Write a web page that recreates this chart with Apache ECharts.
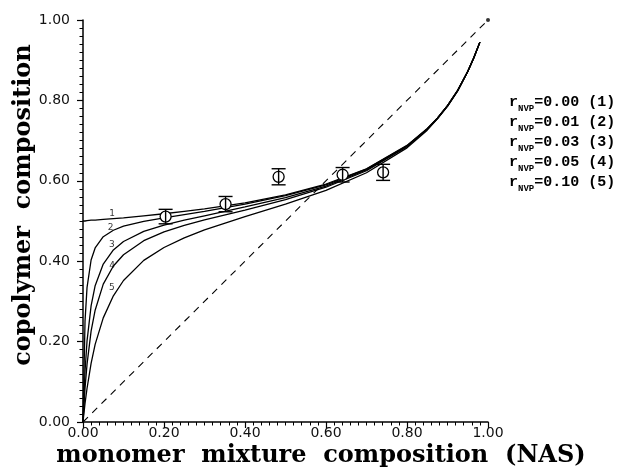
<!DOCTYPE html>
<html>
<head>
<meta charset="utf-8">
<title>copolymer composition</title>
<script src="https://cdn.jsdelivr.net/npm/echarts@6/dist/echarts.min.js"></script>
<style>
    html, body {margin: 0; padding: 0; background: #fff;}
    #chart {width: 619px; height: 469px;}
</style>
</head>
<body>
<div id="chart"></div>
<script>
// monomer mixture composition (NAS), shared by all curves
var feedNAS = [0, 0.005, 0.01, 0.02, 0.03, 0.05, 0.075, 0.1, 0.15, 0.2, 0.25, 0.3, 0.4, 0.5, 0.6, 0.7, 0.8, 0.85, 0.875, 0.9, 0.925, 0.95, 0.965, 0.98];

// copolymer composition, one array per rNVP
var curve1 = [0.500, 0.500, 0.501, 0.502, 0.502, 0.504, 0.506, 0.508, 0.513, 0.518, 0.524, 0.530, 0.545, 0.565, 0.592, 0.630, 0.688, 0.730, 0.756, 0.787, 0.825, 0.872, 0.906, 0.945];
var curve2 = [0, 0.251, 0.335, 0.403, 0.433, 0.461, 0.477, 0.487, 0.499, 0.508, 0.516, 0.524, 0.542, 0.563, 0.590, 0.629, 0.687, 0.729, 0.756, 0.787, 0.825, 0.872, 0.906, 0.945];
var curve3 = [0, 0.126, 0.202, 0.289, 0.339, 0.393, 0.428, 0.449, 0.474, 0.490, 0.502, 0.513, 0.535, 0.558, 0.587, 0.627, 0.686, 0.729, 0.755, 0.787, 0.824, 0.872, 0.906, 0.945];
var curve4 = [0, 0.084, 0.144, 0.226, 0.278, 0.343, 0.388, 0.416, 0.451, 0.473, 0.489, 0.503, 0.527, 0.553, 0.584, 0.625, 0.685, 0.728, 0.755, 0.786, 0.824, 0.872, 0.906, 0.945];
var curve5 = [0, 0.046, 0.084, 0.146, 0.193, 0.259, 0.314, 0.352, 0.402, 0.434, 0.458, 0.478, 0.511, 0.542, 0.576, 0.620, 0.682, 0.726, 0.754, 0.785, 0.823, 0.872, 0.906, 0.945];

// measured points with error bars
var expX = [0.204, 0.352, 0.483, 0.641, 0.741];
var expY = [0.511, 0.542, 0.610, 0.615, 0.621];
var expErr = [0.018, 0.019, 0.020, 0.018, 0.020];

// legend entries
var rValues = ['0.00', '0.01', '0.03', '0.05', '0.10'];

// curve number labels (position of the small digits on the plot)
var tagNames = ['1', '2', '3', '4', '5'];
var tagX = [0.072, 0.068, 0.071, 0.072, 0.071];
var tagY = [0.519, 0.484, 0.440, 0.390, 0.335];

var axisFont = 'DejaVu Sans';
var titleFont = '"DejaVu Serif"';

function pairs(xs, ys) {
    var out = [];
    for (var i = 0; i < xs.length; i++) {
        out.push([xs[i], ys[i]]);
    }
    return out;
}

function curveSeries(name, values) {
    return {
        name: name,
        type: 'line',
        data: pairs(feedNAS, values),
        showSymbol: false,
        smooth: false,
        lineStyle: {color: '#000', width: 1.3},
        animation: false,
        z: 3
    };
}

function renderError(params, api) {
    var x = api.value(0), y = api.value(1), e = api.value(2);
    var c = api.coord([x, y]);
    var top = api.coord([x, y + e]);
    var bot = api.coord([x, y - e]);
    var style = {stroke: '#000', lineWidth: 1.4, fill: null};
    return {
        type: 'group',
        children: [
            {type: 'line', shape: {x1: c[0], y1: top[1], x2: c[0], y2: bot[1]}, style: style},
            {type: 'line', shape: {x1: c[0] - 7, y1: top[1], x2: c[0] + 7, y2: top[1]}, style: style},
            {type: 'line', shape: {x1: c[0] - 7, y1: bot[1], x2: c[0] + 7, y2: bot[1]}, style: style},
            {type: 'circle', shape: {cx: c[0], cy: c[1], r: 5.5}, style: {stroke: '#000', lineWidth: 1.3, fill: '#fff'}},
            {type: 'line', shape: {x1: c[0], y1: c[1] - 5.5, x2: c[0], y2: c[1] + 5.5}, style: style}
        ]
    };
}

function legendText(i) {
    return {
        type: 'text',
        left: 509,
        top: 95 + i * 20,
        style: {
            text: '{r|r}{s|NVP}{t|=' + rValues[i] + ' (' + (i + 1) + ')}',
            rich: {
                r: {fontFamily: 'Liberation Mono', fontWeight: 'bold', fontSize: 15, fill: '#000', lineHeight: 16, verticalAlign: 'bottom'},
                s: {fontFamily: 'Liberation Mono', fontWeight: 'bold', fontSize: 9, fill: '#000', lineHeight: 16, verticalAlign: 'bottom', padding: [0, 0, -3, 0]},
                t: {fontFamily: 'Liberation Mono', fontWeight: 'bold', fontSize: 15, fill: '#000', lineHeight: 16, verticalAlign: 'bottom'}
            }
        }
    };
}

var valueAxis = {
    type: 'value',
    min: 0,
    max: 1,
    interval: 0.2,
    splitLine: {show: false},
    axisLine: {show: true, lineStyle: {color: '#000', width: 1.5}},
    axisTick: {show: true, length: 6, lineStyle: {color: '#000', width: 1.2}},
    minorTick: {show: true, splitNumber: 10, length: 3.5, lineStyle: {color: '#000', width: 1}},
    axisLabel: {
        color: '#111',
        fontFamily: axisFont,
        fontSize: 14,
        formatter: function (v) { return v.toFixed(2); }
    }
};

var xAxis = echarts.util.merge(echarts.util.clone(valueAxis), {axisLabel: {margin: 4}});
var yAxis = echarts.util.merge(echarts.util.clone(valueAxis), {axisLabel: {margin: 13}});

var graphics = [
    {
        type: 'text',
        x: 321,
        y: 456,
        style: {text: 'monomer  mixture  composition  (NAS)', font: 'bold 24px ' + titleFont, fill: '#000', align: 'center', verticalAlign: 'middle'}
    },
    {
        type: 'text',
        x: 24,
        y: 205,
        rotation: Math.PI / 2,
        style: {text: 'copolymer  composition', font: 'bold 24px ' + titleFont, fill: '#000', align: 'center', verticalAlign: 'middle'}
    }
];
for (var k = 0; k < rValues.length; k++) {
    graphics.push(legendText(k));
}

var chart = echarts.init(document.getElementById('chart'));
chart.setOption({
    animation: false,
    backgroundColor: '#fff',
    grid: {left: 83, top: 20, right: 131, bottom: 47, containLabel: false},
    xAxis: xAxis,
    yAxis: yAxis,
    graphic: graphics,
    series: [
        {
            // diagonal F = f
            type: 'line',
            data: [[0, 0], [1, 1]],
            showSymbol: false,
            lineStyle: {color: '#000', width: 1.1, type: [7, 6]},
            z: 2
        },
        {
            type: 'scatter',
            data: [[1, 1]],
            symbolSize: 4,
            itemStyle: {color: '#000'},
            z: 2
        },
        curveSeries('1', curve1),
        curveSeries('2', curve2),
        curveSeries('3', curve3),
        curveSeries('4', curve4),
        curveSeries('5', curve5),
        {
            type: 'custom',
            renderItem: renderError,
            data: expX.map(function (x, i) { return [x, expY[i], expErr[i]]; }),
            z: 5
        },
        {
            // small curve numbers
            type: 'scatter',
            symbolSize: 0,
            data: tagNames.map(function (n, i) { return {name: n, value: [tagX[i], tagY[i]]}; }),
            label: {
                show: true,
                position: 'inside',
                formatter: '{b}',
                color: '#000',
                fontFamily: axisFont,
                fontSize: 9
            },
            z: 6
        }
    ]
});
</script>
</body>
</html>
